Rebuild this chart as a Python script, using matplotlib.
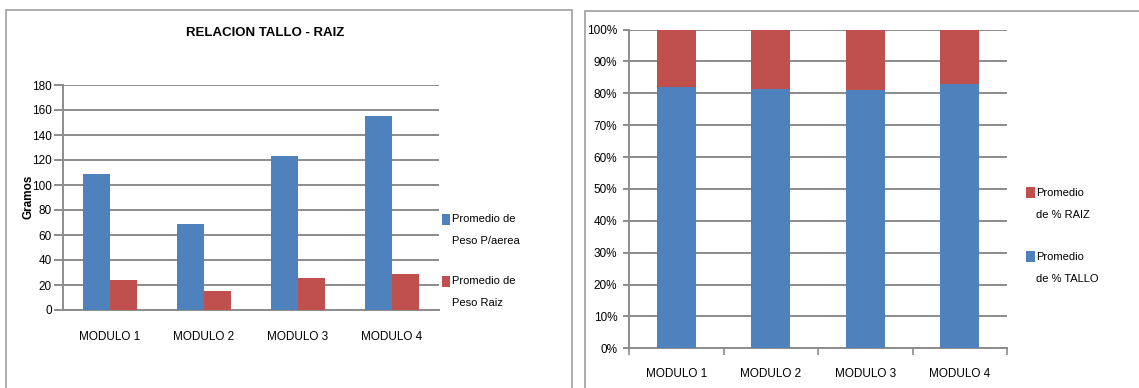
import numpy as np
import matplotlib
matplotlib.use('Agg')
import matplotlib.pyplot as plt
from matplotlib.patches import Rectangle

plt.rcParams['font.family'] = ['Liberation Sans', 'DejaVu Sans']

# data
modulos = ['MODULO 1', 'MODULO 2', 'MODULO 3', 'MODULO 4']
peso_aerea = [109, 69, 123, 155]
peso_raiz = [24, 15.5, 26, 29]
pct_tallo = [81.9, 81.2, 81.1, 82.8]
pct_raiz = [100 - v for v in pct_tallo]

blue = '#4F81BD'
red = '#C0504D'
grid_c = '#8C8C8C'
W, H = 1139, 388
fs = 8.5

fig = plt.figure(figsize=(W / 100, H / 100), dpi=100)

def fbox(x0, y0, x1, y1):
    # pixel box -> figure fraction [left, bottom, width, height]
    return [x0 / W, 1 - y1 / H, (x1 - x0) / W, (y1 - y0) / H]

def key(x0, y0, color, lines):
    # excel style legend entry: square next to the first line of text
    fig.add_artist(Rectangle((x0 / W, 1 - (y0 + 5.5) / H), 8.5 / W, 11 / H,
                             transform=fig.transFigure, color=color, lw=0))
    for i, s in enumerate(lines):
        fig.text((x0 + 10.5) / W, 1 - (y0 + 22 * i) / H, s, ha='left',
                 va='center', fontsize=8)

# panel frames
for x0, y0, x1, y1 in [(6, 10, 572, 392), (585, 11, 1150, 392)]:
    fig.add_artist(Rectangle((x0 / W, 1 - y1 / H), (x1 - x0) / W, (y1 - y0) / H,
                             transform=fig.transFigure, fill=False,
                             ec='#A6A6A6', lw=1.3, clip_on=False))

x = np.arange(len(modulos))

# ---- left chart: grams
ax1 = fig.add_axes(fbox(63, 85, 439, 310))
bw = 0.286
ax1.bar(x - bw / 2, peso_aerea, bw, color=blue, zorder=3)
ax1.bar(x + bw / 2, peso_raiz, bw, color=red, zorder=3)
ax1.set_xlim(-0.5, 3.5)
ax1.set_ylim(0, 180)
ax1.set_yticks(range(0, 181, 20))
ax1.set_xticks(x)
ax1.set_xticklabels(modulos)
ax1.grid(axis='y', color=grid_c, lw=1.4, zorder=0)
ax1.tick_params(axis='y', length=6.5, width=1.4, color=grid_c, pad=1.5, labelsize=fs)
ax1.tick_params(axis='x', length=0, pad=15, labelsize=fs)
for s in ['top', 'right']:
    ax1.spines[s].set_visible(False)
for s in ['left', 'bottom']:
    ax1.spines[s].set_color(grid_c)
    ax1.spines[s].set_linewidth(1.4)
fig.text(265 / W, 1 - 33 / H, 'RELACION TALLO - RAIZ', ha='center', va='center',
         fontsize=9.5, fontweight='bold')
fig.text(28 / W, 1 - 197 / H, 'Gramos', ha='center', va='center', rotation=90,
         fontsize=8.5, fontweight='bold')
key(441.5, 219, blue, ['Promedio de', 'Peso P/aerea'])
key(441.5, 281.5, red, ['Promedio de', 'Peso Raiz'])

# ---- right chart: percent stacked
ax2 = fig.add_axes(fbox(629, 29.5, 1007, 348.3))
bw2 = 0.41
ax2.bar(x, pct_tallo, bw2, color=blue, zorder=3)
ax2.bar(x, pct_raiz, bw2, bottom=pct_tallo, color=red, zorder=3)
ax2.set_xlim(-0.5, 3.5)
ax2.set_ylim(0, 100)
ax2.set_yticks(range(0, 101, 10))
ax2.set_yticklabels([f'{v}%' for v in range(0, 101, 10)])
ax2.set_xticks(np.arange(-0.5, 4, 1))
ax2.set_xticklabels([])
ax2.set_xticks(x, minor=True)
ax2.set_xticklabels(modulos, minor=True)
ax2.grid(axis='y', color=grid_c, lw=1.4, zorder=0)
ax2.tick_params(axis='y', length=4.5, width=1.4, color=grid_c, pad=4, labelsize=fs)
ax2.tick_params(axis='x', which='major', length=5, width=1.2, color=grid_c)
ax2.tick_params(axis='x', which='minor', length=0, pad=14, labelsize=fs)
for s in ['top', 'right']:
    ax2.spines[s].set_visible(False)
for s in ['left', 'bottom']:
    ax2.spines[s].set_color(grid_c)
    ax2.spines[s].set_linewidth(1.4)
key(1026, 192.5, red, ['Promedio', 'de % RAIZ'])
key(1026, 256.5, blue, ['Promedio', 'de % TALLO'])

fig.savefig('out.png', dpi=100)
